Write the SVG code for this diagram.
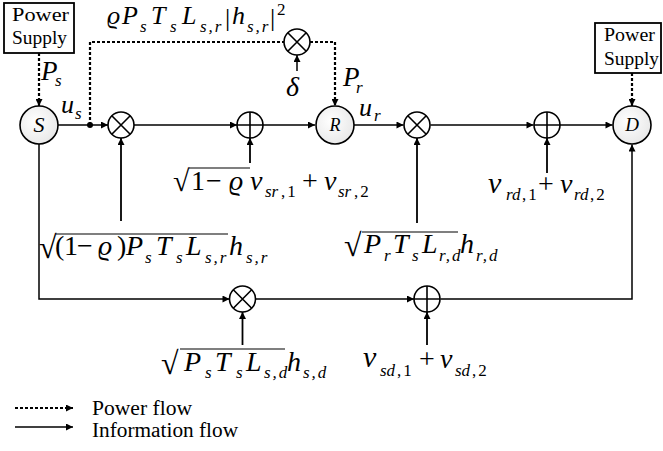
<svg xmlns="http://www.w3.org/2000/svg" xmlns:xlink="http://www.w3.org/1999/xlink" width="663" height="451" viewBox="0 0 663 451">
<style>
.m{font-family:"Liberation Serif","Times New Roman","DejaVu Serif",serif;font-style:italic;font-size:28px;fill:#000}
.s{font-size:17px;font-style:italic}
.u{font-style:normal}
.d{font-size:17px;font-style:normal}
.t{font-family:"Liberation Serif","Times New Roman",serif;font-size:19px;fill:#000}
.lg{font-family:"Liberation Serif","Times New Roman",serif;font-size:20px;fill:#000}
.ln{fill:none;stroke:#000;stroke-width:1.5}
.inp{fill:none;stroke:#000;stroke-width:1.8}
.pw{fill:none;stroke:#000;stroke-width:2.2;stroke-dasharray:3 2}
.nd{fill:url(#ng);stroke:#000;stroke-width:1.6}
.op{fill:#fff;stroke:#000;stroke-width:1.6}
.box{fill:#fff;stroke:#000;stroke-width:1.8}
.bar{stroke:#000;stroke-width:1.2}
</style>
<defs>
<radialGradient id="ng" cx="0.4" cy="0.4" r="0.7"><stop offset="0" stop-color="#ffffff"/><stop offset="1" stop-color="#e6e6e6"/></radialGradient>
<marker id="a" viewBox="0 0 10 10" refX="10" refY="5" markerWidth="9" markerHeight="7" markerUnits="userSpaceOnUse" orient="auto"><path d="M0,0 L10,5 L0,10 z" fill="#000"/></marker>
<g id="mul"><circle r="13" class="op"/><path d="M-9.2,-9.2 L9.2,9.2 M-9.2,9.2 L9.2,-9.2" stroke="#000" stroke-width="1.6"/></g>
<g id="add"><circle r="13" class="op"/><path d="M-13,0 H13 M0,-13 V13" stroke="#000" stroke-width="1.6"/></g>
</defs>
<rect width="663" height="451" fill="#fff"/>

<g id="connectors">
<path class="ln" d="M58,125 H108" marker-end="url(#a)"/>
<path class="ln" d="M134,125 H237" marker-end="url(#a)"/>
<path class="ln" d="M263,125 H315" marker-end="url(#a)"/>
<path class="ln" d="M354,125 H403.5" marker-end="url(#a)"/>
<path class="ln" d="M430.5,125 H533.5" marker-end="url(#a)"/>
<path class="ln" d="M560,125 H612.5" marker-end="url(#a)"/>
<path class="ln" d="M39,144 V299 H229.5" marker-end="url(#a)"/>
<path class="ln" d="M255.5,299 H414" marker-end="url(#a)"/>
<path class="ln" d="M440.5,299 H632 V144.5" marker-end="url(#a)"/>
<path class="inp" d="M121,221 V138" marker-end="url(#a)"/>
<path class="inp" d="M250,163 V138" marker-end="url(#a)"/>
<path class="inp" d="M417,223 V138" marker-end="url(#a)"/>
<path class="inp" d="M547,173 V138" marker-end="url(#a)"/>
<path class="inp" d="M242.5,345 V312" marker-end="url(#a)"/>
<path class="inp" d="M427,345 V312" marker-end="url(#a)"/>
<path class="ln" d="M297,71 V55" marker-end="url(#a)"/>
<path class="pw" d="M39,53 V106" marker-end="url(#a)"/>
<path class="pw" d="M90,125 V42 H284"/>
<path class="pw" d="M310,42 H335 V106" marker-end="url(#a)"/>
<path class="pw" d="M632,73 V106" marker-end="url(#a)"/>
<circle cx="90" cy="125" r="3" fill="#000"/>
</g>

<g id="ps-left">
<rect class="box" x="4" y="3" width="70" height="50"/>
<text class="t" x="12" y="21" textLength="57" lengthAdjust="spacingAndGlyphs">Power</text>
<text class="t" x="12" y="44" textLength="55" lengthAdjust="spacingAndGlyphs">Supply</text>
</g>
<g id="ps-right">
<rect class="box" x="595" y="23" width="66" height="50"/>
<text class="t" x="604" y="41" textLength="51" lengthAdjust="spacingAndGlyphs">Power</text>
<text class="t" x="604" y="65" textLength="55" lengthAdjust="spacingAndGlyphs">Supply</text>
</g>

<g id="node-S"><circle cx="39" cy="125" r="19" class="nd"/><text class="m" x="39" y="132" text-anchor="middle" style="font-size:22px">S</text></g>
<g id="node-R"><circle cx="335" cy="125" r="19" class="nd"/><text class="m" x="335" y="131" text-anchor="middle" style="font-size:18px">R</text></g>
<g id="node-D"><circle cx="632" cy="125" r="19" class="nd"/><text class="m" x="632" y="131" text-anchor="middle" style="font-size:19px">D</text></g>

<g id="mul-power"><use xlink:href="#mul" href="#mul" x="297" y="42"/></g>
<g id="mul-sr"><use xlink:href="#mul" href="#mul" x="121" y="125"/></g>
<g id="add-sr"><use xlink:href="#add" href="#add" x="250" y="125"/></g>
<g id="mul-rd"><use xlink:href="#mul" href="#mul" x="417" y="125"/></g>
<g id="add-rd"><use xlink:href="#add" href="#add" x="547" y="125"/></g>
<g id="mul-sd"><use xlink:href="#mul" href="#mul" x="242.5" y="299"/></g>
<g id="add-sd"><use xlink:href="#add" href="#add" x="427" y="299"/></g>

<g id="labels">
<!-- top formula -->
<text class="m" y="24" style="font-size:26px"><tspan x="107">ϱ</tspan><tspan x="122">P</tspan><tspan class="s" x="140" y="32">s</tspan><tspan x="151" y="24">T</tspan><tspan class="s" x="170" y="32">s</tspan><tspan x="182" y="24">L</tspan><tspan class="s" x="200" y="32" letter-spacing="2">s,r</tspan><tspan class="u" x="225" y="26">|</tspan><tspan x="232" y="24">h</tspan><tspan class="s" x="247" y="32" letter-spacing="2">s,r</tspan><tspan class="u" x="270" y="26">|</tspan><tspan class="d" x="277" y="15">2</tspan></text>
<!-- delta -->
<text class="m" x="286" y="96">δ</text>
<!-- Ps, us, Pr, ur -->
<text class="m" y="80" style="font-size:27px"><tspan x="41">P</tspan><tspan class="s" x="55" y="86">s</tspan></text>
<text class="m" y="113" style="font-size:26px"><tspan x="61">u</tspan><tspan class="s" x="75" y="119">s</tspan></text>
<text class="m" y="86" style="font-size:27px"><tspan x="343">P</tspan><tspan class="s" x="356" y="93">r</tspan></text>
<text class="m" y="116" style="font-size:26px"><tspan x="359">u</tspan><tspan class="s" x="374" y="121">r</tspan></text>

<!-- sqrt(1-rho) v_sr,1 + v_sr,2 -->
<text class="m" x="173" y="191" style="font-style:normal;font-size:30px">√</text>
<line class="bar" x1="189" y1="168" x2="250" y2="168"/>
<text class="m" y="190"><tspan class="u" x="191">1</tspan><tspan class="u" x="206">−</tspan><tspan x="229">ϱ</tspan><tspan x="250">v</tspan><tspan class="s" x="265" y="197">sr</tspan><tspan class="d" x="281" y="197" letter-spacing="2">,1</tspan><tspan class="u" x="302" y="190">+</tspan><tspan x="324">v</tspan><tspan class="s" x="338" y="197">sr</tspan><tspan class="d" x="354" y="197" letter-spacing="2">,2</tspan></text>

<!-- sqrt((1-rho)PsTsLsr) hsr -->
<text class="m" x="39" y="258" style="font-style:normal;font-size:32px">√</text>
<line class="bar" x1="56" y1="234" x2="228" y2="234"/>
<text class="m" y="255"><tspan class="u" x="55">(</tspan><tspan class="u" x="64">1</tspan><tspan class="u" x="77">−</tspan><tspan x="98">ϱ</tspan><tspan class="u" x="117">)</tspan><tspan x="126">P</tspan><tspan class="s" x="145" y="263">s</tspan><tspan x="156" y="255">T</tspan><tspan class="s" x="176" y="263">s</tspan><tspan x="186" y="255">L</tspan><tspan class="s" x="205" y="263" letter-spacing="2">s,r</tspan><tspan x="229" y="255">h</tspan><tspan class="s" x="246" y="263" letter-spacing="2">s,r</tspan></text>

<!-- sqrt(PrTsLrd) hrd -->
<text class="m" x="344" y="256" style="font-style:normal;font-size:32px">√</text>
<line class="bar" x1="362" y1="232" x2="458" y2="232"/>
<text class="m" y="253"><tspan x="364">P</tspan><tspan class="s" x="384" y="261">r</tspan><tspan x="393" y="253">T</tspan><tspan class="s" x="412" y="261">s</tspan><tspan x="422" y="253">L</tspan><tspan class="s" x="439" y="261" letter-spacing="2">r,d</tspan><tspan x="460" y="253">h</tspan><tspan class="s" x="476" y="261" letter-spacing="2">r,d</tspan></text>

<!-- v_rd -->
<text class="m" y="193"><tspan x="488" style="font-size:30px">v</tspan><tspan class="s" x="506" y="200">rd</tspan><tspan class="d" x="522" y="200" letter-spacing="2">,1</tspan><tspan class="u" x="538" y="193">+</tspan><tspan x="560">v</tspan><tspan class="s" x="574" y="200">rd</tspan><tspan class="d" x="590" y="200" letter-spacing="2">,2</tspan></text>

<!-- sqrt(PsTsLsd) hsd -->
<text class="m" x="161" y="374" style="font-style:normal;font-size:32px">√</text>
<line class="bar" x1="180" y1="349" x2="285" y2="349"/>
<text class="m" y="371"><tspan x="184">P</tspan><tspan class="s" x="205" y="378">s</tspan><tspan x="215" y="371">T</tspan><tspan class="s" x="236" y="378">s</tspan><tspan x="246" y="371">L</tspan><tspan class="s" x="264" y="378" letter-spacing="2">s,d</tspan><tspan x="287" y="371">h</tspan><tspan class="s" x="303" y="378" letter-spacing="2">s,d</tspan></text>

<!-- v_sd -->
<text class="m" y="367"><tspan x="363" style="font-size:30px">v</tspan><tspan class="s" x="380" y="376">sd</tspan><tspan class="d" x="397" y="376" letter-spacing="2">,1</tspan><tspan class="u" x="419" y="368">+</tspan><tspan x="440">v</tspan><tspan class="s" x="455" y="376">sd</tspan><tspan class="d" x="472" y="376" letter-spacing="2">,2</tspan></text>
</g>

<g id="legend">
<path class="pw" d="M15,408 H73" marker-end="url(#a)" style="stroke-width:1.8"/>
<path class="ln" d="M15,427 H73" marker-end="url(#a)"/>
<text class="lg" x="92" y="415" textLength="100" lengthAdjust="spacingAndGlyphs">Power flow</text>
<text class="lg" x="92" y="437" textLength="146" lengthAdjust="spacingAndGlyphs">Information flow</text>
</g>
</svg>
